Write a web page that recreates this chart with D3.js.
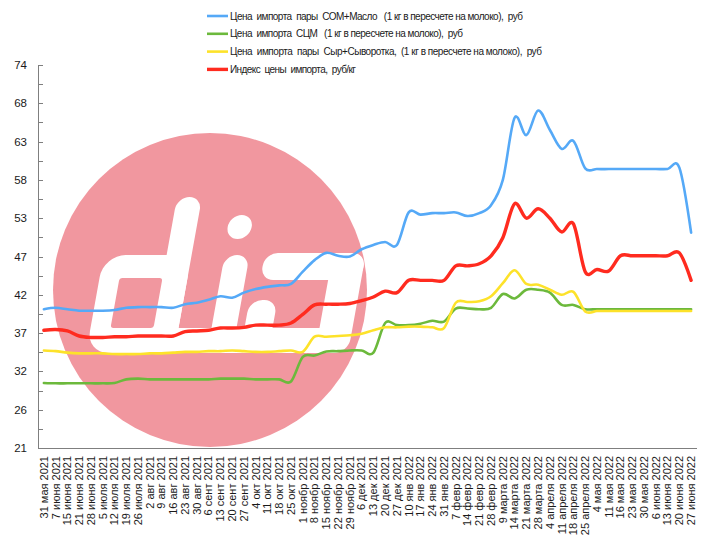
<!DOCTYPE html>
<html>
<head>
<meta charset="utf-8">
<title>Цены импорта</title>
<script src="https://d3js.org/d3.v7.min.js"></script>
<style>
    body { margin: 0; background: #fff; }
    svg text { font-family: "Liberation Sans", Arial, sans-serif; fill: #1a1a1a; }
    .legend text { white-space: pre; }
</style>
</head>
<body>
<div id="chart"></div>
<script>
// даты (ось X)
const dates = ["31 мая 2021","7 июня 2021","15 июня 2021","21 июня 2021","28 июня 2021","5 июля 2021",
    "12 июля 2021","19 июля 2021","26 июля 2021","2 авг 2021","9 авг 2021","16 авг 2021","23 авг 2021",
    "30 авг 2021","6 сент 2021","13 сент 2021","20 сент 2021","27 сент 2021","4 окт 2021","11 окт 2021",
    "18 окт 2021","25 окт 2021","1 ноябр 2021","8 ноябр 2021","15 ноябр 2021","22 ноябр 2021","29 ноябр 2021",
    "6 дек 2021","13 дек 2021","20 дек 2021","27 дек 2021","10 янв 2022","17 янв 2022","24 янв 2022",
    "31 янв 2022","7 февр 2022","14 февр 2022","21 февр 2022","28 февр 2022","9 марта 2022","14 марта 2022",
    "21 марта 2022","28 марта 2022","4 апреля 2022","11 апреля 2022","18 апреля 2022","25 апреля 2022",
    "4 мая 2022","11 мая 2022","16 мая 2022","23 мая 2022","30 мая 2022","6 июня 2022","13 июня 2022",
    "20 июня 2022","27 июня 2022"];

// СОМ+Масло
const somButter = [40.2,40.4,40.2,40.0,40.0,40.0,40.1,40.4,40.5,40.5,40.5,40.4,40.9,41.1,41.5,42.0,41.8,42.5,43.0,43.3,
    43.5,43.7,45.4,47.0,48.0,47.6,47.5,48.5,49.1,49.5,49.1,53.6,53.3,53.5,53.5,53.6,53.1,53.5,54.6,58.1,
    66.7,64.3,67.7,65.0,62.4,63.5,59.7,59.6,59.6,59.6,59.6,59.6,59.6,59.6,59.8,50.8];
// СЦМ
const smp = [30.0,29.95,29.95,29.95,29.95,29.95,30.0,30.5,30.6,30.5,30.5,30.5,30.5,30.5,30.5,30.6,30.6,30.6,30.5,30.5,
    30.5,30.2,33.6,33.8,34.35,34.4,34.5,34.5,34.2,38.3,38.0,38.0,38.2,38.6,38.5,40.3,40.3,40.2,40.4,42.3,
    41.7,42.9,42.9,42.5,40.8,40.8,40.2,40.2,40.2,40.2,40.2,40.2,40.2,40.2,40.2,40.2];
// Сыр+Сыворотка
const cheeseWhey = [34.5,34.4,34.2,34.1,34.1,34.1,34.0,34.0,34.0,34.1,34.1,34.2,34.3,34.3,34.4,34.4,34.5,34.4,34.3,34.3,
    34.4,34.5,34.3,36.4,36.4,36.5,36.6,36.8,37.3,37.7,37.7,37.8,37.8,37.7,37.6,41.1,41.2,41.3,42.0,43.8,
    45.6,43.7,43.6,42.9,42.2,42.6,39.9,39.95,39.95,39.95,39.95,39.95,39.95,39.95,39.95,39.95];
// Индекс цены импорта
const importIndex = [37.3,37.4,37.2,36.5,36.3,36.3,36.4,36.4,36.5,36.5,36.5,36.5,37.1,37.2,37.3,37.6,37.6,37.7,38.0,38.0,
    38.0,38.3,39.5,40.8,40.9,40.9,41.0,41.4,41.9,42.7,42.5,44.2,44.2,44.2,44.2,46.2,46.2,46.5,47.6,50.1,
    54.8,52.8,54.1,52.8,50.9,52.0,45.4,45.7,45.5,47.6,47.6,47.6,47.6,47.6,48.0,44.2];

const yTickLabels = ["21","26","32","37","42","47","53","58","63","68","74"];
const seriesNames = [
    "Цена  импорта  пары  СОМ+Масло   (1 кг в пересчете на молоко),  руб",
    "Цена  импорта  СЦМ   (1 кг в пересчете на молоко),  руб",
    "Цена  импорта  пары  Сыр+Сыворотка,  (1 кг в пересчете на молоко),  руб",
    "Индекс  цены  импорта,  руб/кг"
];
const seriesColors = ["#55a9f7", "#6cb93c", "#fde22a", "#ff2b1f"];

const width = 705, height = 549;
const svg = d3.select("#chart").append("svg")
    .attr("width", width)
    .attr("height", height);

const x = d3.scalePoint().domain(dates).range([38, 697]).padding(0.5);
const y = d3.scaleLinear().domain([21, 74]).range([448, 65]);

// логотип dia на фоне
const pink = "#f1979f";
svg.append("circle").attr("cx", 210).attr("cy", 290).attr("r", 157).attr("fill", pink);
const logo = svg.append("g").attr("transform", "translate(0,353) skewX(-10.2)");
function block(x0, x1, h0, h1, r, fill) {
    logo.append("rect")
        .attr("x", x0).attr("y", -h1)
        .attr("width", x1 - x0).attr("height", h1 - h0)
        .attr("rx", r).attr("fill", fill);
}
// d
block(86, 174, 0, 98, 22, "#fff");
block(149, 174, 0, 156, 12.5, "#fff");
block(106, 149, 25, 75, 3, pink);
// i
block(207, 232, 0, 98, 12.5, "#fff");
logo.append("circle").attr("cx", 217).attr("cy", -126).attr("r", 12).attr("fill", "#fff");
// нижняя связка
block(100, 335, 0, 25, 10, "#fff");
// a
block(247, 348, 73, 100, 13, "#fff");
block(315, 348, 0, 100, 14, "#fff");
block(240, 268, 0, 53, 13, "#fff");

// ось Y
const yAxis = svg.append("g");
yAxis.append("line")
    .attr("x1", 38.5).attr("x2", 38.5)
    .attr("y1", y(74)).attr("y2", y(21))
    .attr("stroke", "#7f7f7f");
const step = (74 - 21) / (yTickLabels.length - 1);
d3.range(0, (yTickLabels.length - 1) * 2 + 1).forEach(k => {
    const yy = Math.round(y(21 + k * step / 2)) + 0.5;
    yAxis.append("line")
        .attr("x1", 38.5).attr("x2", 43)
        .attr("y1", yy).attr("y2", yy)
        .attr("stroke", "#7f7f7f");
});
yAxis.selectAll("text")
    .data(yTickLabels)
    .enter()
    .append("text")
    .attr("x", 27)
    .attr("y", (d, i) => y(21 + i * step))
    .attr("dy", "0.35em")
    .attr("text-anchor", "end")
    .attr("font-size", 11.5)
    .text(d => d);

// ось X
svg.append("line")
    .attr("x1", 38).attr("x2", 697)
    .attr("y1", 448.5).attr("y2", 448.5)
    .attr("stroke", "#7f7f7f");
svg.append("g").selectAll("text")
    .data(dates)
    .enter()
    .append("text")
    .attr("transform", d => `translate(${x(d)},456) rotate(-90)`)
    .attr("dy", "0.35em")
    .attr("text-anchor", "end")
    .attr("font-size", 11)
    .text(d => d);

// линии
const series = [somButter, smp, cheeseWhey, importIndex];
const line = d3.line()
    .x((d, i) => x(dates[i]))
    .y(d => y(d))
    .curve(d3.curveCatmullRom.alpha(0));

series.forEach((values, s) => {
    svg.append("path")
        .datum(values)
        .attr("d", line)
        .attr("fill", "none")
        .attr("stroke", seriesColors[s])
        .attr("stroke-width", s === 3 ? 3.4 : 2.6)
        .attr("stroke-linejoin", "round")
        .attr("stroke-linecap", "round");
});

// легенда
const legendLengths = [293, 233, 312, 126];
const legend = svg.append("g").attr("class", "legend");
seriesNames.forEach((name, i) => {
    const ly = 16 + i * 17.8;
    legend.append("line")
        .attr("x1", 207).attr("x2", 228)
        .attr("y1", ly).attr("y2", ly)
        .attr("stroke", seriesColors[i])
        .attr("stroke-width", i === 3 ? 3.4 : 2.6);
    legend.append("text")
        .attr("x", 230)
        .attr("y", ly)
        .attr("dy", "0.35em")
        .attr("font-size", 10)
        .attr("textLength", legendLengths[i])
        .attr("lengthAdjust", "spacing")
        .text(name);
});
</script>
</body>
</html>
